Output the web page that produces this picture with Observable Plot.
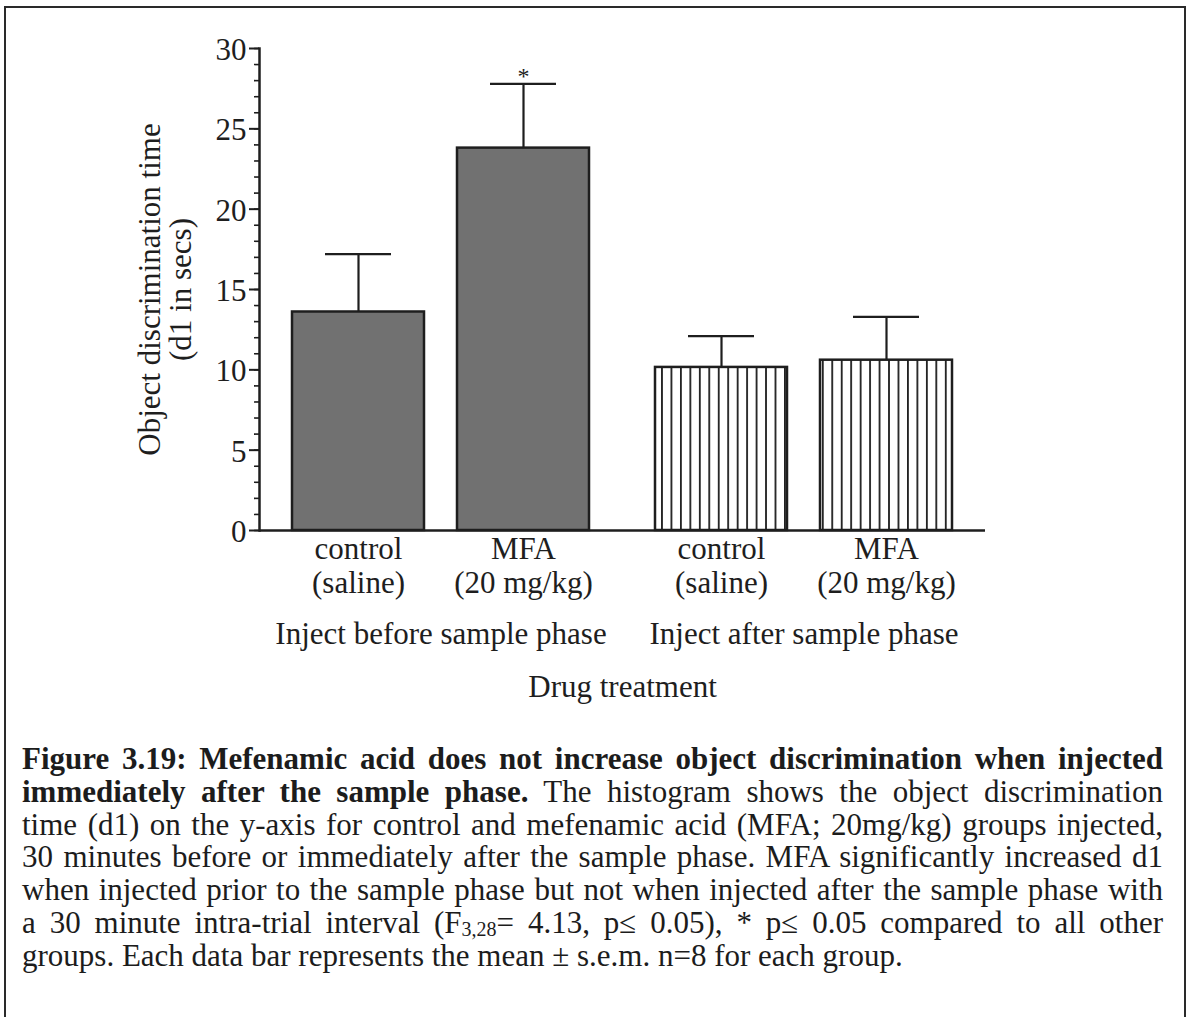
<!DOCTYPE html>
<html>
<head>
<meta charset="utf-8">
<script src="https://cdn.jsdelivr.net/npm/d3@7"></script>
<script src="https://cdn.jsdelivr.net/npm/@observablehq/plot@0.6"></script>
<style>
  html, body { margin: 0; padding: 0; background: #fff; }
  body { width: 1190px; height: 1017px; position: relative; overflow: hidden; font-family: "Liberation Serif", "Times New Roman", serif; color: #1c1c1c; }
  #border { position: absolute; left: 4px; top: 6px; width: 1178px; height: 1100px; border: 2px solid #2a2a2a; }
  #chart { position: absolute; left: 0; top: 0; }
  #caption { position: absolute; left: 22px; top: 743px; width: 1141px; font-size: 31px; line-height: 32.8px; }
  #caption .l { white-space: nowrap; text-align: justify; text-align-last: justify; }
  #caption .last { white-space: nowrap; text-align: left; }
  #caption sub { font-size: 20px; vertical-align: -3px; line-height: 0; }
</style>
</head>
<body>
<div id="border"></div>
<div id="chart"></div>
<div id="caption">
  <div class="l"><b>Figure 3.19: Mefenamic acid does not increase object discrimination when injected</b></div>
  <div class="l"><b>immediately after the sample phase.</b> The histogram shows the object discrimination</div>
  <div class="l">time (d1) on the y-axis for control and mefenamic acid (MFA; 20mg/kg) groups injected,</div>
  <div class="l">30 minutes before or immediately after the sample phase. MFA significantly increased d1</div>
  <div class="l">when injected prior to the sample phase but not when injected after the sample phase with</div>
  <div class="l">a 30 minute intra-trial interval (F<sub>3,28</sub>= 4.13, p≤ 0.05), * p≤ 0.05 compared to all other</div>
  <div class="last">groups. Each data bar represents the mean ± s.e.m. n=8 for each group.</div>
</div>
<script>
// ---- data ----
const timings = ["before", "before", "after", "after"];
const drugs = ["control", "MFA", "control", "MFA"];
const drugLabels = ["control\n(saline)", "MFA\n(20 mg/kg)", "control\n(saline)", "MFA\n(20 mg/kg)"];
const means = [13.6, 23.8, 10.15, 10.6];
const sems = [3.6, 4.0, 1.95, 2.7];
const stars = ["", "*", "", ""];
const groupKeys = ["before", "after"];
const groupLabels = ["Inject before sample phase", "Inject after sample phase"];
const yMajorTicks = [0, 5, 10, 15, 20, 25, 30];
const yMinorTicks = d3.range(0, 31, 1);
const yLabel = "Object discrimination time\n(d1 in secs)";
const xLabel = "Drug treatment";

const rows = drugs.map((d, i) => ({
  timing: timings[i], drug: d, label: drugLabels[i],
  mean: means[i], top: means[i] + sems[i], star: stars[i]
}));

const ink = "#1e1e1e";
const chart = Plot.plot({
  width: 1190,
  height: 720,
  marginLeft: 258,
  marginRight: 205,
  marginTop: 48,
  marginBottom: 190,
  style: { fontFamily: "'Liberation Serif', 'Times New Roman', serif", fontSize: "31px", color: ink, background: "transparent", overflow: "visible" },
  fx: { domain: groupKeys, padding: 0, axis: null },
  x: { domain: ["control", "MFA"], padding: 0.2, axis: null },
  y: { domain: [0, 30], axis: null },
  marks: [
    Plot.barY(rows, {
      fx: "timing", x: "drug", y: "mean",
      fill: d => d.timing === "before" ? "#717171" : "url(#hatch)",
      stroke: ink, strokeWidth: 2.5
    }),
    Plot.ruleX(rows, { fx: "timing", x: "drug", y1: "mean", y2: "top", stroke: ink, strokeWidth: 2.2 }),
    Plot.tickY(rows, { fx: "timing", x: "drug", y: "top", stroke: ink, strokeWidth: 2.2, insetLeft: 33, insetRight: 33 }),
    Plot.text(rows, { fx: "timing", x: "drug", y: "top", text: "star", dy: 0, lineAnchor: "bottom", fontSize: 24, fill: ink }),
    Plot.ruleY([0], { stroke: ink, strokeWidth: 2.5 }),
    Plot.text(rows, { fx: "timing", x: "drug", text: "label", frameAnchor: "bottom", lineAnchor: "top", dy: 4, lineHeight: 1.1, fill: ink }),
    Plot.text(groupKeys, { fx: d => d, text: d => groupLabels[groupKeys.indexOf(d)], frameAnchor: "bottom", lineAnchor: "top", dy: 91, fill: ink }),
    Plot.axisY({ ticks: yMajorTicks, tickSize: 10, tickPadding: 3, strokeWidth: 2, stroke: ink, fill: ink,
      label: yLabel, labelAnchor: "center", labelArrow: "none", labelOffset: 122, lineHeight: 1.15 }),
    Plot.axisY({ ticks: yMinorTicks, tickSize: 5, strokeWidth: 1.6, stroke: ink, tickFormat: () => "", label: null }),
    Plot.frame({ anchor: "left", facetAnchor: "left", stroke: ink, strokeWidth: 2.5 }),
    Plot.axisFx({ anchor: "bottom", tickSize: 0, tickFormat: () => "", label: xLabel, labelAnchor: "center", labelArrow: "none", labelOffset: 166, facetAnchor: null })
  ]
});

// hatch pattern for the "after" bars
const ns = "http://www.w3.org/2000/svg";
const defs = document.createElementNS(ns, "defs");
defs.innerHTML = `<pattern id="hatch" patternUnits="userSpaceOnUse" width="9.46" height="10">
  <rect width="9.46" height="10" fill="#fff"></rect>
  <line x1="4.7" y1="0" x2="4.7" y2="10" stroke="${ink}" stroke-width="1.8"></line>
</pattern>`;
chart.insertBefore(defs, chart.firstChild);
document.getElementById("chart").appendChild(chart);
</script>
</body>
</html>
